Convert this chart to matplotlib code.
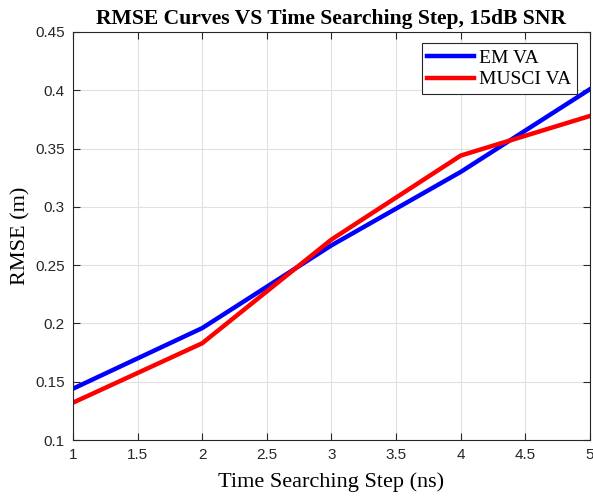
import matplotlib
matplotlib.use("Agg")
import matplotlib.pyplot as plt

steps = [1, 2, 3, 4, 5]
em_va = [0.144, 0.196, 0.267, 0.330, 0.401]
musci_va = [0.132, 0.183, 0.272, 0.344, 0.378]
xticks = [1, 1.5, 2, 2.5, 3, 3.5, 4, 4.5, 5]
yticks = [0.1, 0.15, 0.2, 0.25, 0.3, 0.35, 0.4, 0.45]
ytick_labels = ["0.1", "0.15", "0.2", "0.25", "0.3", "0.35", "0.4", "0.45"]

fig = plt.figure(figsize=(5.93, 5.0), dpi=100)
ax = fig.add_axes([0.123, 0.12, 0.872, 0.816])
ax.plot(steps, em_va, color="#0000ff", lw=3.2, label="EM VA")
ax.plot(steps, musci_va, color="#ff0000", lw=3.2, label="MUSCI VA")
ax.set_xlim(1, 5)
ax.set_ylim(0.1, 0.45)
ax.set_xticks(xticks)
ax.set_xticklabels([f"{t:g}" for t in xticks])
ax.set_yticks(yticks)
ax.set_yticklabels(ytick_labels)
ax.grid(True, color="#e0e0e0", lw=0.8)
ax.set_axisbelow(True)
for s in ax.spines.values():
    s.set_color("#262626")
    s.set_linewidth(0.8)
ax.tick_params(direction="in", length=5, width=0.8, colors="#262626", labelsize=11,
               top=True, right=True, pad=6)
for lab in ax.get_xticklabels() + ax.get_yticklabels():
    lab.set_family("Liberation Sans")
ax.set_xlabel("Time Searching Step (ns)", family="Liberation Serif", fontsize=16, labelpad=7)
ax.set_ylabel("RMSE (m)", family="Liberation Serif", fontsize=16, labelpad=3)
ax.set_title("RMSE Curves VS Time Searching Step, 15dB SNR", family="Liberation Serif",
             fontsize=15.6, fontweight="bold", pad=6)
leg = ax.legend(loc="upper right", bbox_to_anchor=(0.975, 0.972), prop={"family": "Liberation Serif", "size": 14},
                fancybox=False, edgecolor="#262626", framealpha=1, handlelength=2.4,
                handletextpad=0.25, borderpad=0.3, labelspacing=0.2, borderaxespad=0)
leg.get_frame().set_linewidth(0.8)
fig.savefig("out.png", dpi=100)
